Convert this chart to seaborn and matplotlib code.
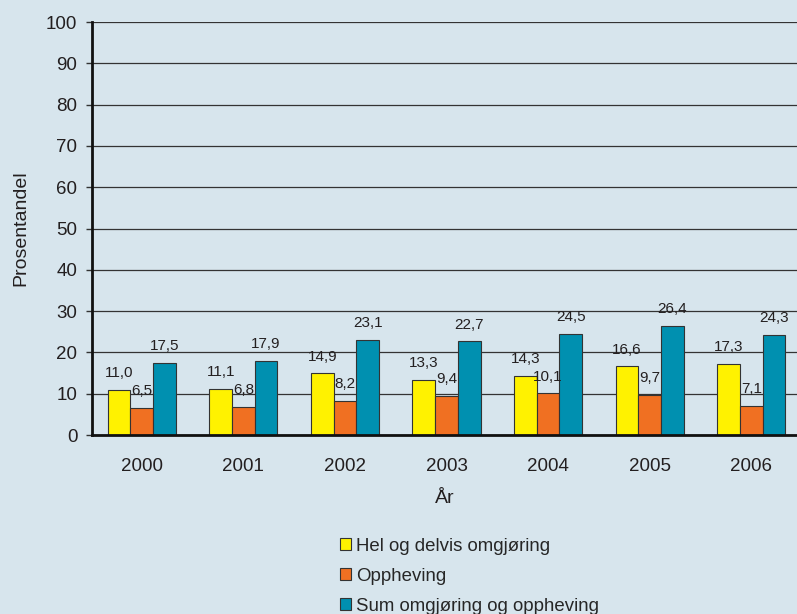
import matplotlib
matplotlib.use("Agg")
import matplotlib.pyplot as plt
import seaborn as sns
import pandas as pd
from matplotlib.patches import Patch
from matplotlib import font_manager as fm

years = ["2000", "2001", "2002", "2003", "2004", "2005", "2006"]
series_names = ["Hel og delvis omgjøring", "Oppheving", "Sum omgjøring og oppheving"]
hel = [11.0, 11.1, 14.9, 13.3, 14.3, 16.6, 17.3]
opp = [6.5, 6.8, 8.2, 9.4, 10.1, 9.7, 7.1]
total = [17.5, 17.9, 23.1, 22.7, 24.5, 26.4, 24.3]
colors = ["#fff200", "#f07022", "#0090b0"]
yticks = [0, 10, 20, 30, 40, 50, 60, 70, 80, 90, 100]

rows = []
for name, vals in zip(series_names, [hel, opp, total]):
    for y, v in zip(years, vals):
        rows.append({"År": y, "Serie": name, "Verdi": v})
df = pd.DataFrame(rows)

sns.set_theme(style="white")

fam = "DejaVu Sans"
for f in fm.fontManager.ttflist:
    if f.fname.endswith("LiberationSans-Regular.ttf"):
        fam = f.name
        break
plt.rcParams["font.family"] = [fam, "DejaVu Sans"]
plt.rcParams["font.stretch"] = "normal"
bg = "#d7e5ed"
txt = "#231f20"

fig = plt.figure(figsize=(7.97, 6.14), dpi=100, facecolor=bg)
ax = fig.add_axes([0.1154, 0.2915, 0.8846, 0.6725], facecolor=bg)

sns.barplot(data=df, x="År", y="Verdi", hue="Serie", hue_order=series_names,
            palette=colors, width=0.67, edgecolor="#333333", linewidth=0.8,
            ax=ax, legend=False, saturation=1)

for cont in ax.containers:
    labels = [f"{v:.1f}".replace(".", ",") for v in cont.datavalues]
    ax.bar_label(cont, labels=labels, padding=7, fontsize=11, color=txt)

ax.set_ylim(0, 100)
ax.set_xlim(-0.49, 6.45)
ax.set_yticks(yticks)
ax.yaxis.grid(True, color="#333333", linewidth=0.9)
ax.set_axisbelow(True)
for s in ["top", "right"]:
    ax.spines[s].set_visible(False)
ax.spines["left"].set_linewidth(2)
ax.spines["left"].set_color("#111111")
ax.spines["bottom"].set_linewidth(2)
ax.spines["bottom"].set_color("#111111")
ax.tick_params(axis="y", length=4.5, width=1, color="#333333", labelsize=13.5,
               labelcolor=txt, left=True, pad=6)
ax.tick_params(axis="x", length=0, labelsize=13.5, labelcolor=txt, pad=16.5)
ax.set_ylabel("Prosentandel", fontsize=14, color=txt, labelpad=12)
ax.set_xlabel("År", fontsize=14, color=txt, labelpad=11)

handles = [Patch(facecolor=c, edgecolor="#333333", linewidth=0.8) for c in colors]
fig.legend(handles, series_names, loc="upper left", bbox_to_anchor=(0.427, 0.124),
           frameon=False, fontsize=13.4, handlelength=0.6, handleheight=0.6,
           handletextpad=0.25, labelspacing=0.69, borderaxespad=0, borderpad=0)

fig.savefig("out.png", dpi=100, facecolor=bg)
